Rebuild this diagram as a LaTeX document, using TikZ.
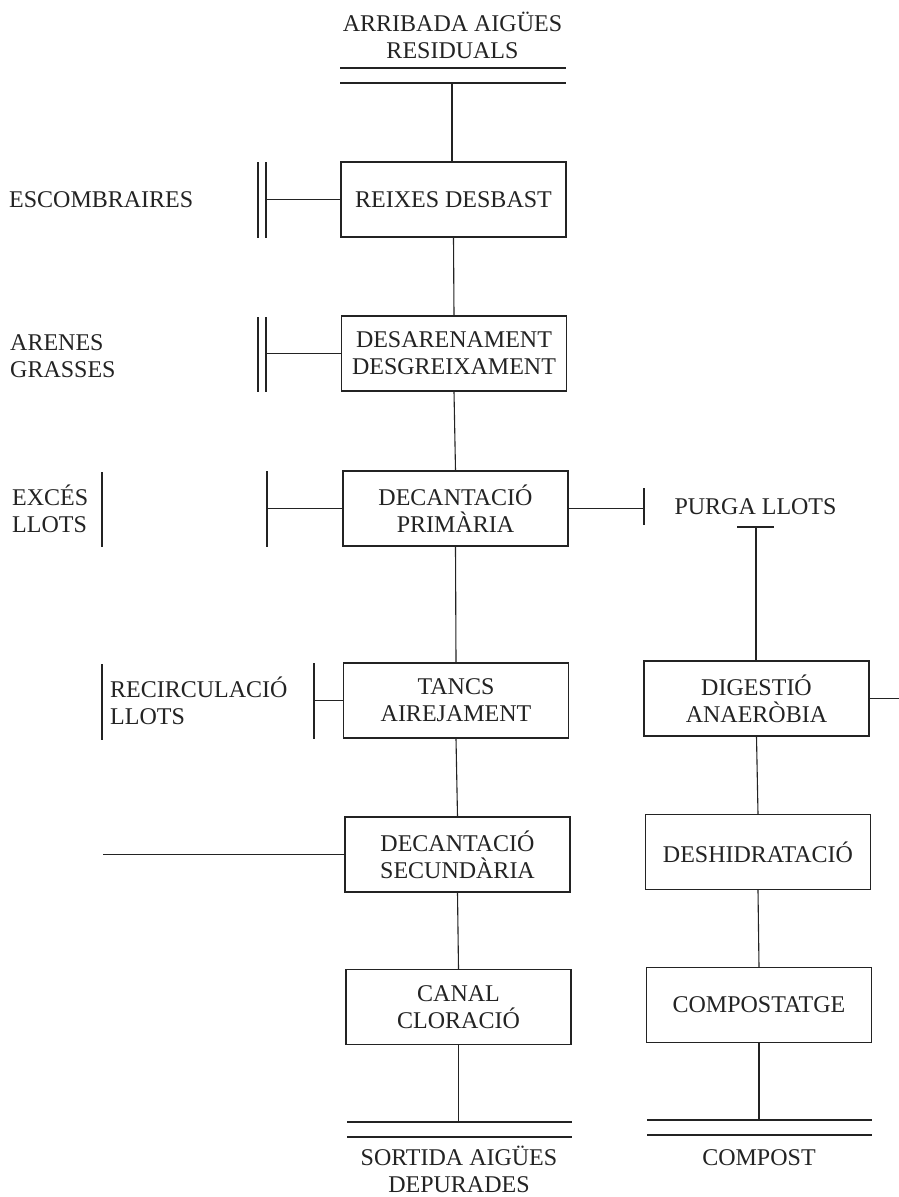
\documentclass[tikz,border=0pt]{standalone}
\usepackage{fontspec}
\setmainfont{Liberation Serif}
\definecolor{ink}{RGB}{35,35,35}
\begin{document}
\begin{tikzpicture}[x=1pt,y=-1pt]
\tikzset{
  proc/.style={draw=ink, line width=1.1pt, minimum width=225pt, minimum height=75pt,
    inner sep=0pt, align=center, font=\fontsize{24}{27}\selectfont, text=ink},
  lbl/.style={inner sep=0pt, font=\fontsize{24}{27}\selectfont, text=ink},
  ln/.style={draw=ink, line width=1.1pt},
}
\useasboundingbox[fill=white] (0,0) rectangle (899,1197);

% process boxes
\node[proc] (reixes) at (453.5,199.5) {REIXES DESBAST};
\node[proc] (desar)  at (454,353.5)   {DESARENAMENT\\DESGREIXAMENT};
\node[proc] (decp)   at (455.5,508.5) {DECANTACIÓ\\PRIMÀRIA};
\node[proc] (tancs)  at (456,700.5)   {TANCS\\AIREJAMENT};
\node[proc] (decs)   at (457.5,854.5) {DECANTACIÓ\\SECUNDÀRIA};
\node[proc] (canal)  at (458.5,1007)  {CANAL\\CLORACIÓ};
\node[proc] (dig)    at (756.5,698.5) {DIGESTIÓ\\ANAERÒBIA};
\node[proc] (desh)   at (758,852)     {DESHIDRATACIÓ};
\node[proc] (comp)   at (759,1005)    {COMPOSTATGE};

% labels
\node[lbl, align=center] (arribada) at (452.5,35) {ARRIBADA AIGÜES\\RESIDUALS};
\node[lbl, anchor=west] (escomb) at (9,200) {ESCOMBRAIRES};
\node[lbl, anchor=west, align=left] (arenes) at (10,356) {ARENES\\GRASSES};
\node[lbl, anchor=west, align=left] (exces) at (12,508.5) {EXCÉS\\LLOTS};
\node[lbl, anchor=west, align=left] (recirc) at (110,701) {RECIRCULACIÓ\\LLOTS};
\node[lbl] (purga) at (755.5,507) {PURGA LLOTS};
\node[lbl, align=center] (sortida) at (459,1169) {SORTIDA AIGÜES\\DEPURADES};
\node[lbl] (compost) at (759,1158) {COMPOST};

% top double line
\coordinate (t1a) at (340,68);  \coordinate (t1b) at (566,68);
\coordinate (t2a) at (340,83);  \coordinate (t2b) at (566,83);
\coordinate (t2m) at (452,83);
\draw[ln] (t1a) -- (t1b);
\draw[ln] (t2a) -- (t2b);
\draw[ln] (t2m) -- (t2m |- reixes.north);

% main chain
\draw[ln] (reixes.south) -- (desar.north);
\draw[ln] (desar.south) -- (decp.north);
\draw[ln] (decp.south) -- (tancs.north);
\draw[ln] (tancs.south) -- (decs.north);
\draw[ln] (decs.south) -- (canal.north);

% sludge chain
\draw[ln] (dig.south) -- (desh.north);
\draw[ln] (desh.south) -- (comp.north);

% escombraires
\coordinate (eb1t) at (258,162); \coordinate (eb1b) at (258,238);
\coordinate (eb2t) at (266,162); \coordinate (eb2b) at (266,238);
\draw[ln] (eb1t) -- (eb1b);
\draw[ln] (eb2t) -- (eb2b);
\draw[ln] (reixes.west) -- (reixes.west -| eb2t);

% arenes
\coordinate (ab1t) at (258,317); \coordinate (ab1b) at (258,392);
\coordinate (ab2t) at (266,317); \coordinate (ab2b) at (266,392);
\draw[ln] (ab1t) -- (ab1b);
\draw[ln] (ab2t) -- (ab2b);
\draw[ln] (desar.west) -- (desar.west -| ab2t);

% exces llots
\coordinate (xbt) at (102,472); \coordinate (xbb) at (102,547);
\draw[ln] (xbt) -- (xbb);
\coordinate (xlt) at (267,471); \coordinate (xlb) at (267,547);
\draw[ln] (xlt) -- (xlb);
\draw[ln] (decp.west) -- (decp.west -| xlt);

% purga llots
\coordinate (prt) at (644,488); \coordinate (prb) at (644,525);
\draw[ln] (prt) -- (prb);
\draw[ln] (decp.east) -- (decp.east -| prt);
\coordinate (pta) at (737,527); \coordinate (ptb) at (774,527);
\coordinate (ptm) at (756,527);
\draw[ln] (pta) -- (ptb);
\draw[ln] (ptm) -- (ptm |- dig.north);

% recirculacio llots
\coordinate (rbt) at (102,664); \coordinate (rbb) at (102,740);
\draw[ln] (rbt) -- (rbb);
\coordinate (rrt) at (314,663); \coordinate (rrb) at (314,739);
\draw[ln] (rrt) -- (rrb);
\draw[ln] (tancs.west) -- (tancs.west -| rrt);

% secundaria outlet
\coordinate (sec) at (103,855);
\draw[ln] (decs.west) -- (decs.west -| sec);

% digestio outlet
\coordinate (dge) at (899,698.5);
\draw[ln] (dig.east) -- (dge);

% bottom left double line
\coordinate (b1a) at (347,1122); \coordinate (b1b) at (572,1122);
\coordinate (b2a) at (347,1137); \coordinate (b2b) at (572,1137);
\draw[ln] (b1a) -- (b1b);
\draw[ln] (b2a) -- (b2b);
\draw[ln] (canal.south) -- (canal.south |- b1a);

% bottom right double line
\coordinate (c1a) at (647,1120); \coordinate (c1b) at (872,1120);
\coordinate (c2a) at (647,1135); \coordinate (c2b) at (872,1135);
\draw[ln] (c1a) -- (c1b);
\draw[ln] (c2a) -- (c2b);
\draw[ln] (comp.south) -- (comp.south |- c1a);
\end{tikzpicture}
\end{document}
